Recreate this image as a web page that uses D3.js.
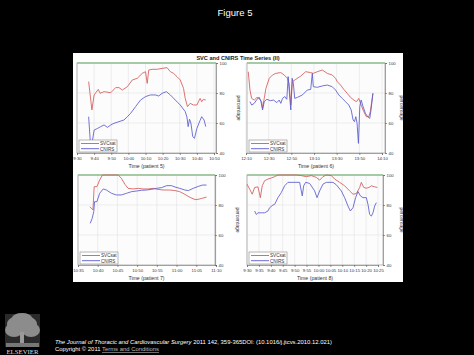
<!DOCTYPE html>
<html><head><meta charset="utf-8">
<script src="https://cdn.jsdelivr.net/npm/d3@7"></script>
<style>html,body{margin:0;padding:0;background:#000;}svg{display:block;font-family:Arial,"Liberation Sans",sans-serif;}</style>
</head><body><svg id="c" width="474" height="355"></svg>
<script>
// ---- data (minutes after first tick, percentage) ----
const yTicks = [40, 60, 80, 100];
const seriesNames = ["SVCsat", "CNIRS"];

const p5Ticks = ["9:30","9:40","9:50","10:00","10:10","10:20","10:30","10:40","10:50"];
const p5SvcTime = [6.8,8.7,10.0,12.4,13.5,15.8,19.7,22.6,24.5,26.5,29.4,32.3,35.2,38.1,40.0,41.0,41.9,43.9,46.8,49.7,52.6,54.5,56.4,58.4,60.3,62.2,63.2,64.5,66.1,68.0,70.0,71.9,72.8,73.8,75.2];
const p5SvcVal  = [87.6,68.7,78.7,82.4,79.8,80.9,80.2,83.6,83.6,82.0,84.2,88.7,89.8,93.1,94.2,86.4,95.3,95.8,95.8,96.4,96.9,94.2,93.1,90.9,88.7,83.1,76.4,70.9,73.1,72.0,72.0,76.4,74.2,75.8,75.3];
const p5NirsTime = [6.8,7.7,8.7,10.0,12.0,13.9,15.8,17.8,19.7,21.6,24.5,27.4,29.4,31.3,34.2,37.1,40.0,42.9,45.8,47.7,49.7,52.2,54.5,57.4,60.3,63.2,64.2,64.9,65.7,66.5,67.6,68.6,70.0,71.9,72.8,74.2,75.2];
const p5NirsVal  = [64.2,48.7,46.0,55.3,56.4,57.6,58.7,57.1,58.7,59.8,60.9,62.0,64.2,66.4,70.9,75.3,77.6,78.7,78.7,78.0,79.8,80.9,78.7,75.3,72.0,67.6,64.0,57.6,62.5,60.0,50.9,49.8,56.4,61.8,64.2,62.0,57.6];

const p6Ticks = ["12:10","12:30","12:50","13:10","13:30","13:50","14:10"];
const p6SvcTime = [2.0,3.5,5.0,7.3,9.7,11.7,13.8,14.6,16.1,17.6,20.5,23.4,26.3,30.7,33.7,36.6,38.0,39.5,41.0,43.9,48.3,52.7,57.1,59.4,62.9,67.3,71.7,76.1,79.0,80.5,83.4,86.3,89.3,92.2,95.1,97.5,99.5,101.6,103.9,106.2,108.3,109.7,112.0];
const p6SvcVal  = [94.2,82.0,76.4,75.3,77.1,76.4,74.2,69.8,76.4,83.1,89.8,92.0,93.1,93.6,92.0,89.8,86.4,72.0,87.6,89.1,91.3,94.2,93.6,93.1,94.2,95.3,93.1,92.0,89.8,87.6,85.3,82.4,79.8,77.1,75.3,74.2,76.4,72.0,67.6,64.2,64.2,67.6,79.8];
const p6NirsTime = [3.5,5.0,7.3,9.7,11.7,13.2,14.6,16.1,18.4,21.4,24.3,27.2,29.3,30.7,32.2,34.2,36.0,37.2,38.3,39.5,40.7,41.8,43.0,45.4,49.8,54.1,57.1,58.5,59.4,62.9,67.3,71.7,76.1,79.0,81.9,84.9,87.8,90.7,92.8,94.5,95.7,96.9,98.0,99.2,100.4,101.6,103.3,105.4,107.4,109.2,110.3,112.0];
const p6NirsVal  = [74.2,72.0,73.1,75.8,77.1,74.2,68.7,74.2,75.8,74.9,75.3,73.6,75.3,73.1,76.4,77.6,75.8,90.9,80.0,68.7,89.8,86.4,76.4,77.1,78.7,82.0,82.4,93.1,84.2,83.8,84.7,85.3,84.2,82.0,78.7,76.4,74.2,72.0,68.7,62.0,60.9,64.2,59.8,46.4,70.9,75.3,70.9,66.4,64.2,63.1,68.7,79.8];

const p7Ticks = ["10:35","10:40","10:45","10:50","10:55","11:00","11:05","11:10"];
const p7SvcTime = [3.0,3.8,4.1,4.8,5.5,6.2,8.1,10.2,11.0,11.9,12.7,14.0,15.3,16.5,17.8,19.1,20.3,21.6,23.3,24.6,25.8,27.1,28.4,29.7,30.5,31.4,32.6];
const p7SvcVal  = [78.9,76.7,92.2,92.2,96.7,100,100,100,97.8,93.8,91.1,90.7,91.1,90.7,90.7,91.1,90.4,90.0,90.0,89.6,88.9,87.1,85.1,83.6,83.8,84.4,85.3];
const p7NirsTime = [3.1,3.6,4.0,4.2,4.8,5.5,6.4,7.2,8.5,9.7,11.0,12.3,13.6,14.8,16.1,17.4,18.6,19.9,21.2,22.5,23.7,24.6,25.8,27.1,28.0,29.2,30.5,31.6,32.6];
const p7NirsVal  = [67.8,71.1,75.6,82.2,82.2,87.8,90.7,90.0,87.8,86.7,86.7,87.8,88.9,89.3,89.8,90.0,90.4,91.1,91.6,92.9,92.9,92.0,91.1,90.0,89.6,91.1,92.4,93.3,93.3];

const p8Ticks = ["9:30","9:35","9:40","9:45","9:50","9:55","10:00","10:05","10:10","10:15","10:20","10:25"];
const p8SvcTime = [0,1.1,2.2,3.2,4.6,5.6,6.4,7.4,8.8,10.2,11.6,13.0,20.7,22.8,24.9,27.0,29.1,30.5,31.9,33.3,35.4,36.8,38.9,41.0,43.1,44.5,45.9,47.3,48.0,49.0,50.1,51.2,52.2,53.6,54.7];
const p8SvcVal  = [93.9,90.6,87.2,91.7,92.1,84.9,92.8,96.2,97.3,98.0,98.9,100,100,99.6,98.9,99.6,98.4,96.6,98.9,100,99.6,97.3,95.1,92.8,89.4,87.2,87.6,91.7,95.1,91.7,91.2,91.7,92.8,92.1,91.7];
const p8NirsTime = [3.2,3.9,4.6,6.0,7.4,8.8,9.5,10.9,11.6,13.0,14.4,15.8,17.2,22.1,23.2,23.8,24.6,26.3,28.4,29.4,30.5,31.9,33.3,36.1,37.5,39.6,41.0,42.4,43.4,44.5,45.6,46.6,47.6,48.7,50.1,50.8,51.5,52.2,52.9,53.6,54.3];
const p8NirsVal  = [76.0,73.7,74.8,74.8,74.8,76.0,78.2,80.0,80.4,84.9,88.3,92.8,95.1,95.1,86.1,92.8,95.1,94.4,89.4,84.9,89.4,93.9,95.1,95.1,93.5,89.4,84.9,79.3,76.0,78.2,84.9,89.0,86.1,84.9,84.9,80.4,73.7,72.6,74.8,79.3,81.6];

// ---- layout ----
const panels = [
  {ticks:p5Ticks, step:10, label:"Time (patient 5)", st:p5SvcTime, sv:p5SvcVal, nt:p5NirsTime, nv:p5NirsVal, fx:[77,216], xr:[77,214], fy:[63,153], ylab:237},
  {ticks:p6Ticks, step:20, label:"Time (patient 6)", st:p6SvcTime, sv:p6SvcVal, nt:p6NirsTime, nv:p6NirsVal, fx:[247,385], xr:[246,382], fy:[63,153], ylab:400},
  {ticks:p7Ticks, step:5,  label:"Time (patient 7)", st:p7SvcTime, sv:p7SvcVal, nt:p7NirsTime, nv:p7NirsVal, fx:[78,215], xr:[78,216], fy:[175,265], ylab:236},
  {ticks:p8Ticks, step:5,  label:"Time (patient 8)", st:p8SvcTime, sv:p8SvcVal, nt:p8NirsTime, nv:p8NirsVal, fx:[247,383], xr:[247,378], fy:[175,265], ylab:400}
];
const colors = ["#d65a5a", "#5a5ad0"];

const svg = d3.select("#c");
svg.append("rect").attr("width",474).attr("height",355).attr("fill","#000");
svg.append("text").attr("x",235).attr("y",16).attr("text-anchor","middle").attr("fill","#fff")
  .attr("font-size",9.5).text("Figure 5");

// figure panel
svg.append("rect").attr("x",73).attr("y",53).attr("width",330).attr("height",229).attr("fill","#fff");
svg.append("text").attr("x",238).attr("y",59.5).attr("text-anchor","middle").attr("font-weight","bold")
  .attr("font-size",5.6).attr("fill","#222").text("SVC and CNIRS Time Series (II)");

panels.forEach(p => {
  const g = svg.append("g");
  const x = d3.scaleLinear().domain([0, p.step*(p.ticks.length-1)]).range(p.xr);
  const y = d3.scaleLinear().domain([40,100]).range([p.fy[1], p.fy[0]]);
  const tickVals = p.ticks.map((t,i)=>i*p.step);

  g.append("rect").attr("x",p.fx[0]).attr("y",p.fy[0]).attr("width",p.fx[1]-p.fx[0]).attr("height",p.fy[1]-p.fy[0])
    .attr("fill","#fcfcfc");
  // grid
  g.selectAll(".vg").data(tickVals).join("line")
    .attr("x1",d=>x(d)).attr("x2",d=>x(d)).attr("y1",p.fy[0]).attr("y2",p.fy[1])
    .attr("stroke","#e2e2e2").attr("stroke-width",0.6);
  g.selectAll(".hg").data([60,80]).join("line")
    .attr("x1",p.fx[0]).attr("x2",p.fx[1]).attr("y1",d=>y(d)).attr("y2",d=>y(d))
    .attr("stroke","#e2e2e2").attr("stroke-width",0.6);
  g.append("rect").attr("x",p.fx[0]).attr("y",p.fy[0]).attr("width",p.fx[1]-p.fx[0]).attr("height",p.fy[1]-p.fy[0])
    .attr("fill","none").attr("stroke","#9a9a9a").attr("stroke-width",0.7);
  g.append("line").attr("x1",p.fx[0]).attr("x2",p.fx[1]).attr("y1",y(100)).attr("y2",y(100))
    .attr("stroke","#93c493").attr("stroke-width",1.6);

  // lines
  const line = d3.line().x(d=>x(d[0])).y(d=>y(d[1]));
  const svc = p.st.map((t,i)=>[t,p.sv[i]]);
  const nirs = p.nt.map((t,i)=>[t,p.nv[i]]);
  g.append("path").datum(svc).attr("d",line).attr("fill","none").attr("stroke",colors[0]).attr("stroke-width",0.85);
  g.append("path").datum(nirs).attr("d",line).attr("fill","none").attr("stroke",colors[1]).attr("stroke-width",0.85);

  // axes
  const xa = g.append("g").attr("transform",`translate(0,${p.fy[1]})`)
    .call(d3.axisBottom(x).tickValues(tickVals).tickFormat((d,i)=>p.ticks[i]).tickSize(2).tickPadding(1.5));
  const ya = g.append("g").attr("transform",`translate(${p.fx[1]},0)`)
    .call(d3.axisRight(y).tickValues(yTicks).tickSize(2).tickPadding(1.5));
  [xa,ya].forEach(a=>{
    a.select(".domain").attr("stroke","#777").attr("stroke-width",0.6);
    a.selectAll(".tick line").attr("stroke","#555").attr("stroke-width",0.6);
    a.selectAll("text").attr("font-size",4.3).attr("fill","#333").attr("font-family","Arial, sans-serif");
  });
  g.append("text").attr("x",(p.fx[0]+p.fx[1])/2).attr("y",p.fy[1]+15).attr("text-anchor","middle")
    .attr("font-size",5.2).attr("fill","#333").text(p.label);
  g.append("text").attr("transform",`translate(${p.ylab},${(p.fy[0]+p.fy[1])/2}) rotate(90)`)
    .attr("text-anchor","middle").attr("font-size",5).attr("fill","#333").text("percentage");

  // legend
  const lx = p.fx[0]+2, ly = p.fy[1]-13;
  const lg = g.append("g").attr("transform",`translate(${lx},${ly})`);
  lg.append("rect").attr("width",38).attr("height",12).attr("fill","#fff").attr("stroke","#888").attr("stroke-width",0.6);
  seriesNames.forEach((n,i)=>{
    lg.append("line").attr("x1",2).attr("x2",20).attr("y1",3.5+i*5.2).attr("y2",3.5+i*5.2)
      .attr("stroke",colors[i]).attr("stroke-width",0.9);
    lg.append("text").attr("x",21).attr("y",5.3+i*5.2).attr("font-size",4.6).attr("fill","#333").text(n);
  });
});

// footer logo (stylised tree)
const logo = svg.append("g");
logo.append("rect").attr("x",5).attr("y",314).attr("width",35).attr("height",33).attr("fill","#2a2a2a");
[[22,324,15,9],[14,330,9,7],[31,330,9,7],[22,318,10,5]].forEach(d=>{
  logo.append("ellipse").attr("cx",d[0]).attr("cy",d[1]).attr("rx",d[2]).attr("ry",d[3]).attr("fill","#8c8c8c");
});
logo.append("rect").attr("x",20).attr("y",332).attr("width",4).attr("height",14).attr("fill","#9a9a9a");
logo.append("rect").attr("x",6).attr("y",343).attr("width",33).attr("height",4).attr("fill","#777");
logo.append("text").attr("x",22.5).attr("y",353.5).attr("text-anchor","middle").attr("fill","#ddd")
  .attr("font-family","'Liberation Serif', serif").attr("font-size",6.8).text("ELSEVIER");

const t1 = svg.append("text").attr("x",55).attr("y",343.5).attr("fill","#fff").attr("font-size",5.9);
t1.append("tspan").attr("font-style","italic").text("The Journal of Thoracic and Cardiovascular Surgery");
t1.append("tspan").text(" 2011 142, 359-365DOI: (10.1016/j.jtcvs.2010.12.021)");
const t2 = svg.append("text").attr("x",55).attr("y",351).attr("fill","#fff").attr("font-size",5.9);
t2.append("tspan").text("Copyright © 2011 ");
t2.append("tspan").attr("fill","#bbb").attr("text-decoration","underline").text("Terms and Conditions");
</script></body></html>
